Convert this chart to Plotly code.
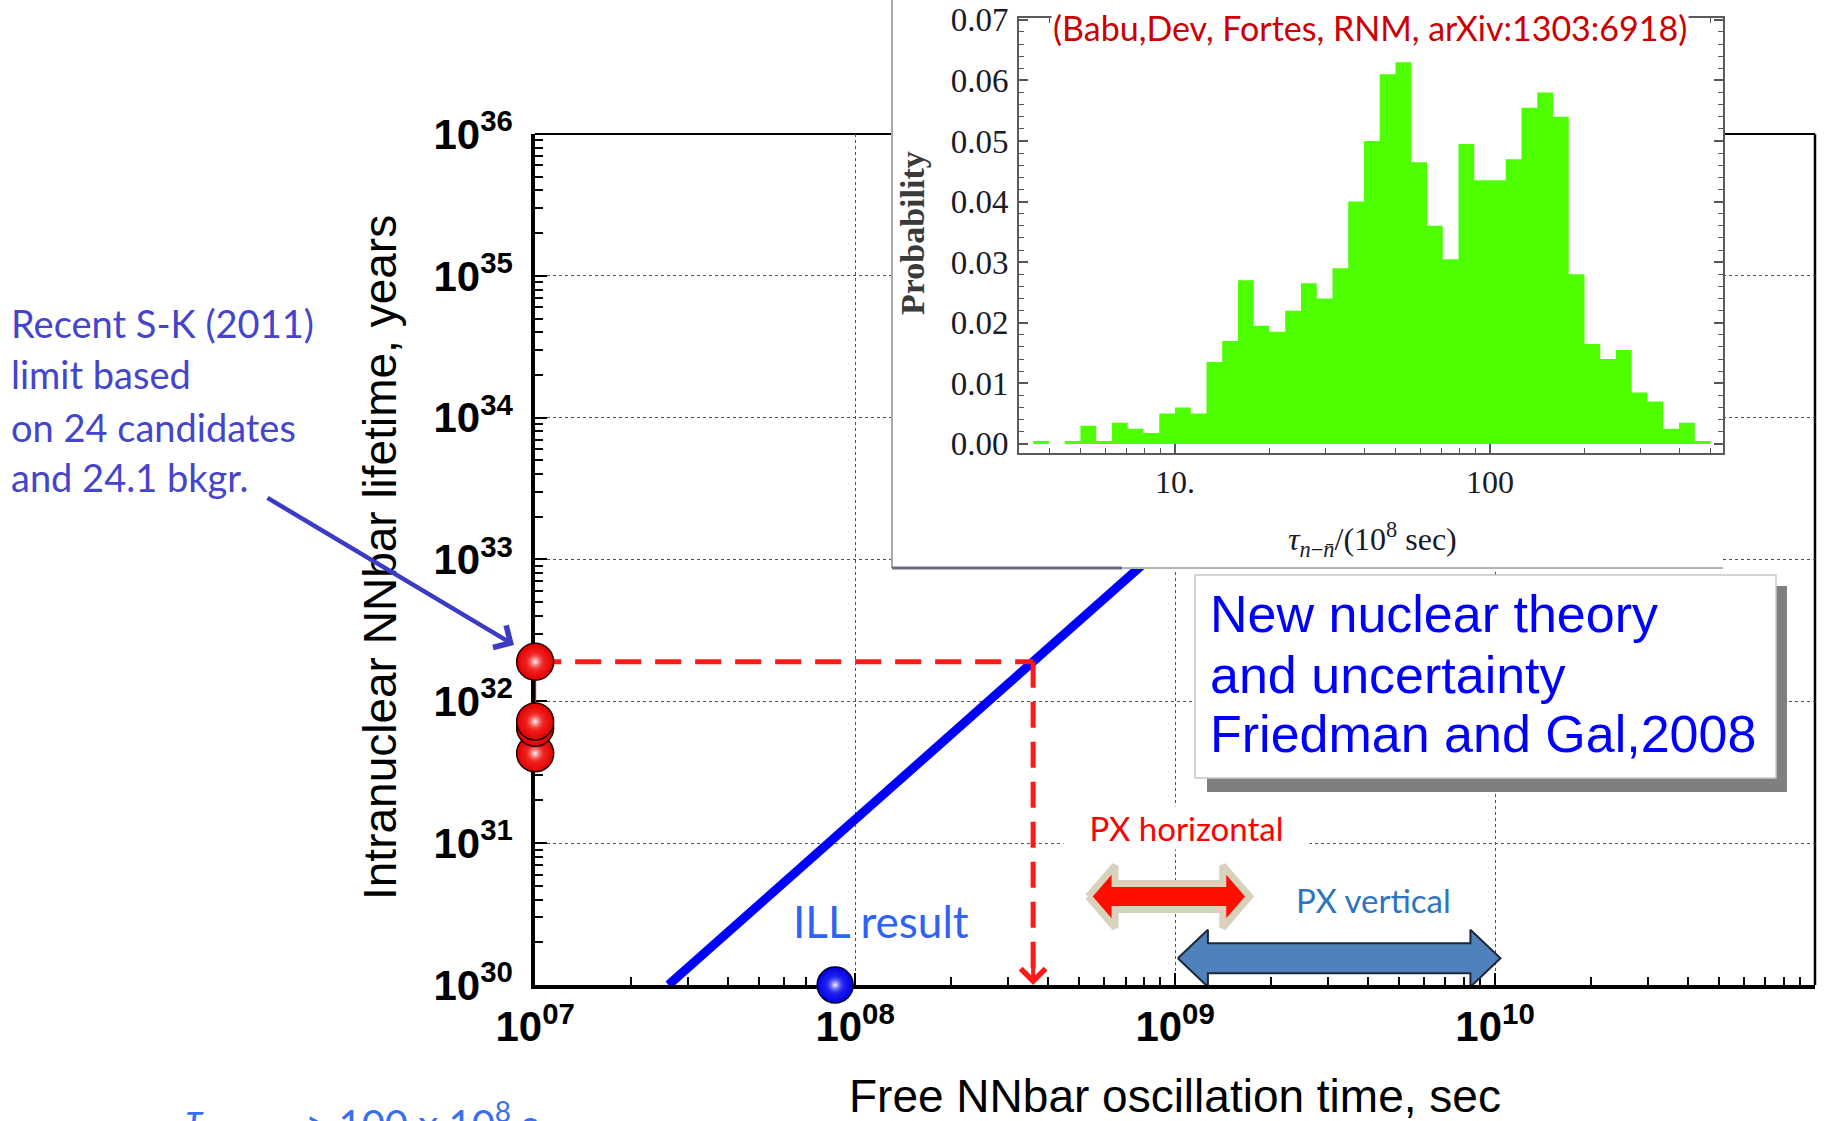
import numpy as np
import plotly.graph_objects as go

W, H = 1828, 1121


def px(x):
    """pixel column -> paper fraction"""
    return x / W


def py(y):
    """pixel row (from top) -> paper fraction"""
    return 1 - y / H


# ---------------- main panel data ----------------
tau_major = [1e7, 1e8, 1e9, 1e10]
tau_exponents = ["07", "08", "09", "10"]
life_major = [1e30, 1e31, 1e32, 1e33, 1e34, 1e35, 1e36]
life_exponents = ["30", "31", "32", "33", "34", "35", "36"]

# free vs. intranuclear oscillation time relation (slope 2 on log-log)
theory_tau = [2.61e7, 2.61e10]
theory_life = [1.0e30, 1.0e36]

# intranuclear lifetime limits (years), shown on the left edge
nuclear_limits = [1.9e32, 7.2e31, 6.5e31, 4.3e31]
nuclear_tau_pos = [1e7, 1e7, 1e7, 1e7]

# Super-K limit transferred to the free oscillation time
sk_life = 1.9e32
sk_tau = 3.6e8

# ILL free-neutron result
ill_tau = [8.66e7]
ill_life = [1.0e30]

# projected sensitivity ranges (seconds) and the level they are drawn at
px_horizontal_tau = [5.35e8, 1.71e9]
px_horizontal_level = 4.2e30
px_vertical_tau = [1.02e9, 1.04e10]
px_vertical_level = 1.54e30

# ---------------- inset histogram ----------------
prob = [0.0005, 0.0, 0.0005, 0.003, 0.0005, 0.0035, 0.0025, 0.0018, 0.005,
        0.006, 0.005, 0.0135, 0.017, 0.027, 0.0195, 0.0185, 0.022, 0.0265,
        0.024, 0.029, 0.040, 0.050, 0.061, 0.063, 0.0465, 0.036, 0.0305,
        0.0495, 0.0435, 0.0435, 0.047, 0.0555, 0.058, 0.054, 0.028, 0.0165,
        0.014, 0.0155, 0.0085, 0.007, 0.0025, 0.0035, 0.0005]
first_bin_exp = 0.55      # log10 of the lowest bin edge (units of 1e8 s)
bin_dex = 0.05            # bin width in decades
inset_ticks = [10, 100]
inset_ticktext = ["10.", "100"]
prob_ticks = [0.0, 0.01, 0.02, 0.03, 0.04, 0.05, 0.06, 0.07]

# ---------------- helpers ----------------
def decade_minor(lo, hi):
    return [m * 10.0 ** e for e in range(lo, hi) for m in range(2, 10)]


def double_arrow(x_range, y_mid, body_half, head_half, head_len):
    """outline of a two-headed block arrow; sizes are in decades"""
    a, b = np.log10(x_range[0]), np.log10(x_range[1])
    c = np.log10(y_mid)
    xs = [a, a + head_len, a + head_len, b - head_len, b - head_len, b,
          b - head_len, b - head_len, a + head_len, a + head_len, a]
    ys = [c, c + head_half, c + body_half, c + body_half, c + head_half, c,
          c - head_half, c - body_half, c - body_half, c - head_half, c]
    return 10 ** np.array(xs), 10 ** np.array(ys)


def sphere(fig, x, y, size, rgb, edge):
    """solid ball with a soft white highlight on top"""
    r, g, b = rgb
    fig.add_trace(go.Scatter(x=x, y=y, mode="markers", cliponaxis=False, hoverinfo="skip",
                             marker=dict(size=size, color=f"rgb({r},{g},{b})",
                                         gradient=dict(type="radial",
                                                       color=f"rgb({min(255, r + 60)},{min(255, g + 60)},{min(255, b + 60)})"),
                                         line=dict(color=edge, width=1.5))))
    fig.add_trace(go.Scatter(x=x, y=y, mode="markers", cliponaxis=False, hoverinfo="skip",
                             marker=dict(size=size * 0.6, color=f"rgba({r},{g},{b},0)",
                                         gradient=dict(type="radial", color="rgba(255,255,255,1)"),
                                         line=dict(width=0))))


ARIAL = "Arial, Liberation Sans, sans-serif"
SERIF = "Times New Roman, Liberation Serif, serif"
CALI = "Lato, Open Sans, sans-serif"

fig = go.Figure()

# theory line
fig.add_trace(go.Scatter(x=theory_tau, y=theory_life, mode="lines",
                         line=dict(color="#0000ff", width=9), hoverinfo="skip"))

# dashed Super-K transfer lines
fig.add_trace(go.Scatter(x=[nuclear_tau_pos[0], sk_tau], y=[sk_life, sk_life],
                         mode="lines", line=dict(color="#ff1a1a", width=5, dash="26px,14px"),
                         hoverinfo="skip"))
fig.add_trace(go.Scatter(x=[sk_tau, sk_tau], y=[sk_life, ill_life[0] * 1.15],
                         mode="lines", line=dict(color="#ff1a1a", width=5, dash="26px,14px"),
                         hoverinfo="skip"))

# projected ranges
hx, hy = double_arrow(px_horizontal_tau, px_horizontal_level, 0.092, 0.219, 0.084)
fig.add_trace(go.Scatter(x=hx, y=hy, mode="lines", fill="toself", fillcolor="#ff0d00",
                         line=dict(color="#d8d1bc", width=7), hoverinfo="skip"))
vx, vy = double_arrow(px_vertical_tau, px_vertical_level, 0.106, 0.201, 0.094)
fig.add_trace(go.Scatter(x=vx, y=vy, mode="lines", fill="toself", fillcolor="#4f81bd",
                         line=dict(color="#1c2838", width=2), hoverinfo="skip"))

# intranuclear limits: thin connector, then spheres from the bottom up
fig.add_trace(go.Scatter(x=nuclear_tau_pos, y=nuclear_limits, mode="lines",
                         line=dict(color="#ee0000", width=2), cliponaxis=False, hoverinfo="skip"))
for xv, yv in zip(nuclear_tau_pos[::-1], nuclear_limits[::-1]):
    sphere(fig, [xv], [yv], 37, (225, 0, 0), "#200000")

# ILL result
sphere(fig, ill_tau, ill_life, 36, (0, 0, 225), "#000020")

# blank white panel that hides the main plot behind the inset
fig.add_trace(go.Scatter(x=[0], y=[0], xaxis="x2", yaxis="y2", mode="markers",
                         marker=dict(opacity=0), hoverinfo="skip"))

# inset histogram
exps = first_bin_exp + bin_dex * np.arange(len(prob) + 1)
fig.add_trace(go.Scatter(x=10 ** exps, y=prob + [prob[-1]], xaxis="x3", yaxis="y3",
                         mode="lines", line=dict(shape="hv", width=0, color="#4dff00"),
                         fill="tozeroy", fillcolor="#4dff00", hoverinfo="skip"))

# ---------------- axes ----------------
# ranges are opened by a hair so that points sitting exactly on the
# frame (log10 round-off) are still drawn
fig.update_layout(
    width=W, height=H, margin=dict(l=0, r=0, t=0, b=0, autoexpand=False),
    paper_bgcolor="white", plot_bgcolor="white", showlegend=False,
    xaxis=dict(type="log", range=[6.9995, 11], domain=[px(535), px(1815)], anchor="y",
               automargin=False, layer="below traces",
               tickvals=tau_major,
               ticktext=[f"<b>10<sup>{e}</sup></b>" for e in tau_exponents],
               tickfont=dict(family=ARIAL, size=42, color="black"),
               ticks="inside", ticklen=12, tickwidth=2, tickcolor="black",
               showline=True, linewidth=3.5, linecolor="black",
               showgrid=True, gridcolor="#505050", gridwidth=1.3, griddash="dot",
               minor=dict(tickvals=decade_minor(7, 11), ticks="inside", ticklen=8,
                          tickwidth=1.5, tickcolor="black", showgrid=False),
               zeroline=False, ticklabelstandoff=2),
    yaxis=dict(type="log", range=[29.9995, 36], domain=[py(985), py(134)], anchor="x",
               automargin=False, layer="below traces",
               tickvals=life_major,
               ticktext=[f"<b>10<sup>{e}</sup></b>" for e in life_exponents],
               tickfont=dict(family=ARIAL, size=42, color="black"),
               ticks="inside", ticklen=12, tickwidth=2, tickcolor="black",
               showline=True, linewidth=3.5, linecolor="black",
               showgrid=True, gridcolor="#505050", gridwidth=1.3, griddash="dot",
               minor=dict(tickvals=decade_minor(30, 36), ticks="inside", ticklen=8,
                          tickwidth=1.5, tickcolor="black", showgrid=False),
               zeroline=False, ticklabelstandoff=10),
    xaxis2=dict(domain=[px(892), px(1723)], anchor="y2", range=[0, 1], visible=False,
                automargin=False),
    yaxis2=dict(domain=[py(568), 1.0], anchor="x2", range=[0, 1], visible=False,
                automargin=False),
    xaxis3=dict(type="log", range=[0.5048, 2.7397], domain=[px(1019), px(1723)], anchor="y3",
                automargin=False,
                tickvals=inset_ticks, ticktext=inset_ticktext,
                tickfont=dict(family=SERIF, size=32, color="#1a1a28"),
                ticks="inside", ticklen=9, tickwidth=1.5, tickcolor="#555555",
                showline=True, linewidth=2, linecolor="#5a5a5a", mirror="allticks",
                showgrid=False, zeroline=False, ticklabelstandoff=0,
                minor=dict(tickvals=[4, 5, 6, 7, 8, 9, 20, 30, 40, 50, 60, 70, 80, 90,
                                     200, 300, 400, 500],
                           ticks="inside", ticklen=5, tickwidth=1.2, tickcolor="#555555")),
    yaxis3=dict(range=[-0.0015, 0.0703], domain=[py(453), py(18)], anchor="x3",
                automargin=False,
                tickvals=prob_ticks, ticktext=[f"{v:.2f}" for v in prob_ticks],
                tickfont=dict(family=SERIF, size=33, color="#1a1a28"),
                ticks="inside", ticklen=9, tickwidth=1.5, tickcolor="#555555",
                showline=True, linewidth=2, linecolor="#5a5a5a", mirror="allticks",
                showgrid=False, zeroline=False, ticklabelstandoff=2,
                minor=dict(dtick=0.002, tick0=0, ticks="inside", ticklen=5,
                           tickwidth=1.2, tickcolor="#555555")),
)

# ---------------- frame and boxes ----------------
shapes = [
    # top and right frame of the main panel
    dict(type="line", xref="paper", yref="paper", x0=px(535), x1=px(1815), y0=py(134), y1=py(134),
         line=dict(color="black", width=2), layer="below"),
    dict(type="line", xref="paper", yref="paper", x0=px(1815), x1=px(1815), y0=py(134), y1=py(985),
         line=dict(color="black", width=2.5), layer="below"),
    # inset border
    dict(type="line", xref="paper", yref="paper", x0=px(892), x1=px(892), y0=1.0, y1=py(568),
         line=dict(color="#a9a9a9", width=2), layer="above"),
    dict(type="line", xref="paper", yref="paper", x0=px(892), x1=px(1723), y0=py(568), y1=py(568),
         line=dict(color="#b4b4b4", width=2), layer="above"),
    dict(type="line", xref="paper", yref="paper", x0=px(892), x1=px(1122), y0=py(568), y1=py(568),
         line=dict(color="#6a6a7a", width=3), layer="above"),
    # text box with drop shadow
    dict(type="rect", xref="paper", yref="paper", x0=px(1207), x1=px(1787), y0=py(792), y1=py(586),
         fillcolor="#7f7f7f", line=dict(width=0), layer="above"),
    dict(type="rect", xref="paper", yref="paper", x0=px(1195), x1=px(1776), y0=py(778), y1=py(575),
         fillcolor="white", line=dict(color="#c8c8c8", width=1.5), layer="above"),
]
fig.update_layout(shapes=shapes)

# ---------------- text ----------------
ann = []


def label(text, x, y, size, color, family=CALI, xanchor="center", **kw):
    ann.append(dict(text=text, xref="paper", yref="paper", x=px(x), y=py(y),
                    xanchor=xanchor, yanchor="middle", showarrow=False,
                    font=dict(family=family, size=size, color=color), **kw))


# axis titles
label("Intranuclear NNbar lifetime, years", 380, 558, 46, "black", ARIAL, textangle=-90)
label("Free NNbar oscillation time, sec", 1175, 1096, 46, "black", ARIAL)

# Super-K note with arrow
sk_lines = ["Recent S-K (2011)", "limit based", "on 24 candidates", "and 24.1 bkgr."]
for txt, yc in zip(sk_lines, [323, 374, 427, 477]):
    label(txt, 9, yc, 38, "#4444cc", xanchor="left")
ann.append(dict(text="", xref="paper", yref="paper", x=px(514), y=py(645),
                ax=266 - 514, ay=497 - 645, showarrow=True, arrowhead=4,
                arrowsize=1.1, arrowwidth=4.5, arrowcolor="#3b3bc6", standoff=0))

# arrowhead at the bottom of the transferred limit
ann.append(dict(text="", xref="x", yref="y", x=np.log10(sk_tau), y=np.log10(ill_life[0]),
                ax=0, ay=-30, showarrow=True, arrowhead=4, arrowsize=1.2,
                arrowwidth=4, arrowcolor="#ff1a1a", standoff=0))

label("ILL result", 881, 921, 44, "#2f62f5")
label("PX horizontal", 1186, 828, 33, "#ff0000", bgcolor="white", width=243)
label("PX vertical", 1373, 900, 33, "#2e74c0")

for txt, yc in zip(["New nuclear theory", "and uncertainty", "Friedman and Gal,2008"],
                   [614, 675, 734]):
    label(txt, 1208, yc, 52, "#0000ff", ARIAL, xanchor="left")

# inset labels
label("(Babu,Dev, Fortes, RNM, arXiv:1303:6918)", 1370, 28, 34, "#cc0000", bgcolor="white")
label("<b>Probability</b>", 913, 233, 34, "#3a3a3a", SERIF, textangle=-90)
label("<i>τ</i><sub><i>n</i>−<i>n\u0304</i></sub>/(10<sup>8</sup> sec)", 1372, 540, 32,
      "#1a1a28", SERIF)

# bottom line, partly outside the page
ann.append(dict(text="<i>τ</i><sub>n-n\u0304</sub>", xref="paper", yref="paper",
                x=px(184), y=py(1092), xanchor="left", yanchor="top", showarrow=False,
                font=dict(family=CALI, size=40, color="#3a6ef2")))
ann.append(dict(text="> 100 x 10<sup>8</sup> s", xref="paper", yref="paper",
                x=px(303), y=py(1092), xanchor="left", yanchor="top", showarrow=False,
                font=dict(family=CALI, size=40, color="#3a6ef2")))

fig.update_layout(annotations=ann)

fig.write_html("out.html")
